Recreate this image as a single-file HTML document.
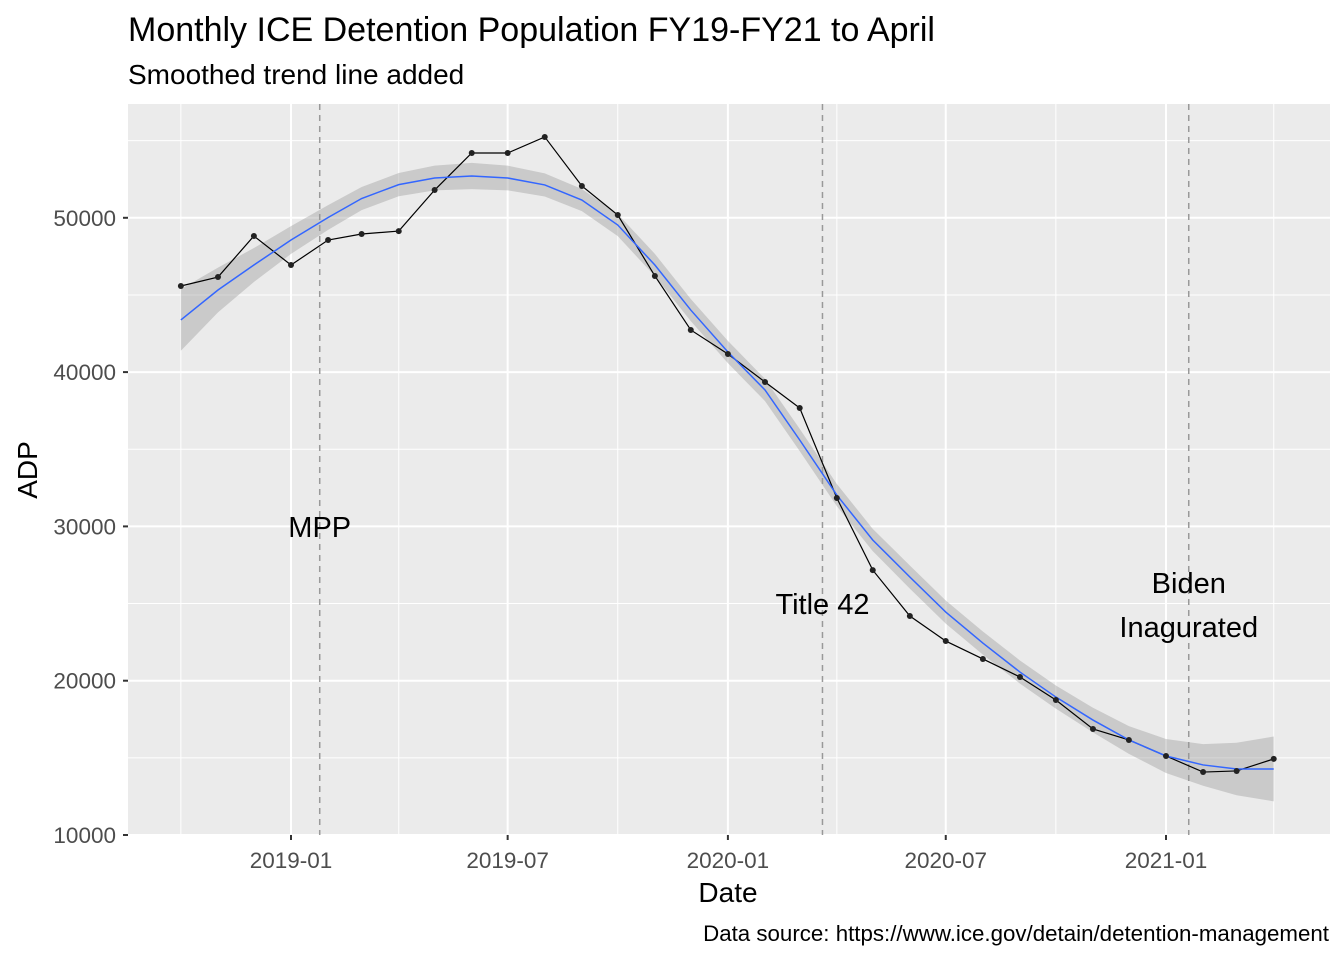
<!DOCTYPE html>
<html><head><meta charset="utf-8">
<style>
body{margin:0;background:#fff;}
svg text{font-family:"Liberation Sans",Arial,sans-serif;}
</style></head>
<body>
<svg id="chart" width="1344" height="960" xmlns="http://www.w3.org/2000/svg">
<text x="128" y="41" font-size="34" fill="#000">Monthly ICE Detention Population FY19-FY21 to April</text>
<text x="128" y="84" font-size="28" fill="#000">Smoothed trend line added</text>
<g id="plot"></g>
<text x="728" y="902" font-size="28" text-anchor="middle" fill="#000">Date</text>
<text transform="translate(37,470) rotate(-90)" font-size="28" text-anchor="middle" fill="#000">ADP</text>
<text x="1329" y="941" font-size="22.3" text-anchor="end" fill="#000">Data source: https://www.ice.gov/detain/detention-management</text>
</svg>
<script>
const startMonth = [2018, 10];
const adpValues = [45580,46160,48820,46940,48560,48950,49140,51800,54200,54200,55240,52060,50180,46230,42730,41170,39360,37670,31840,27170,24190,22570,21410,20240,18750,16870,16160,15120,14080,14150,14930];
const smoothValues = [43380,45320,46940,48560,50020,51250,52150,52580,52710,52580,52130,51150,49530,46940,44020,41300,38840,35600,32030,29120,26720,24450,22440,20560,18940,17450,16160,15120,14540,14280,14280];
const bandHalf = [2000,1450,1100,900,800,750,750,800,850,800,750,720,720,720,720,720,720,720,720,720,750,750,750,750,750,800,900,1100,1350,1700,2100];
const yTicks = [10000,20000,30000,40000,50000];
const xTickLabels = ["2019-01","2019-07","2020-01","2020-07","2021-01"];
const events = [{label:["MPP"],date:"2019-01-25",ly:[527]},{label:["Title 42"],date:"2020-03-20",ly:[604]},{label:["Biden","Inagurated"],date:"2021-01-20",ly:[583,627]}];

const L=128,R=1330,T=104,B=835;
const NS="http://www.w3.org/2000/svg";
const base=Date.UTC(2019,0,1);
function xDate(s){const d=new Date(s+"T00:00:00Z");return 291+(d-base)/86400000*(875/731);}
function xYM(y,m){return xDate(y+"-"+String(m).padStart(2,"0")+"-01");}
function yS(v){return 835-(v-10000)*154.3/10000;}
const g=document.getElementById("plot");
function el(t,a,p){const e=document.createElementNS(NS,t);for(const k in a)e.setAttribute(k,a[k]);(p||g).appendChild(e);return e;}
const bg=el("rect",{x:L,y:T,width:R-L,height:B-T,fill:"#ebebeb"});


for(let v=5000;v<=60000;v+=10000){const y=yS(v);if(y>T&&y<B)el("line",{x1:L,x2:R,y1:y,y2:y,stroke:"#fff","stroke-width":1});}
const minorX=["2018-10-01","2019-04-01","2019-10-01","2020-04-01","2020-10-01","2021-04-01"];
minorX.forEach(d=>{const x=xDate(d);el("line",{x1:x,x2:x,y1:T,y2:B,stroke:"#fff","stroke-width":1});});
yTicks.forEach(v=>{const y=yS(v);el("line",{x1:L,x2:R,y1:y,y2:y,stroke:"#fff","stroke-width":2});
 el("line",{x1:L-5,x2:L,y1:y,y2:y,stroke:"#333","stroke-width":2});
 const t=el("text",{x:L-12,y:y+8,"font-size":22.5,"text-anchor":"end",fill:"#4d4d4d"});t.textContent=v;
 
 });
xTickLabels.forEach(s=>{const x=xDate(s+"-01");el("line",{x1:x,x2:x,y1:T,y2:B,stroke:"#fff","stroke-width":2});
 el("line",{x1:x,x2:x,y1:B,y2:B+5,stroke:"#333","stroke-width":2});
 const t=el("text",{x:x,y:B+33,"font-size":22.5,"text-anchor":"middle",fill:"#4d4d4d"});t.textContent=s;
 
 });
function mx(i){let m=startMonth[1]-1+i;return xYM(startMonth[0]+Math.floor(m/12),m%12+1);}
let up=[],lo=[];
smoothValues.forEach((v,i)=>{up.push(mx(i)+","+yS(v+bandHalf[i]));lo.unshift(mx(i)+","+yS(v-bandHalf[i]));});
const band=el("polygon",{points:up.concat(lo).join(" "),fill:"#999",opacity:0.4});


events.forEach(ev=>{const x=xDate(ev.date);
 const ln=el("line",{x1:x,x2:x,y1:T,y2:B,stroke:"#999","stroke-width":1.5,"stroke-dasharray":"6,5"});
 
 
 ev.label.forEach((s,k)=>{const t=el("text",{x:x,y:ev.ly[k]+10,"font-size":29,"text-anchor":"middle",fill:"#000"});t.textContent=s;
 
 });});
const dl=el("polyline",{points:adpValues.map((v,i)=>mx(i)+","+yS(v)).join(" "),fill:"none",stroke:"#000","stroke-width":1.2});


const sl=el("polyline",{points:smoothValues.map((v,i)=>mx(i)+","+yS(v)).join(" "),fill:"none",stroke:"#3366ff","stroke-width":1.5});


adpValues.forEach((v,i)=>{const c=el("circle",{cx:mx(i),cy:yS(v),r:3,fill:"#222"});
 
 });
</script>
</body></html>
